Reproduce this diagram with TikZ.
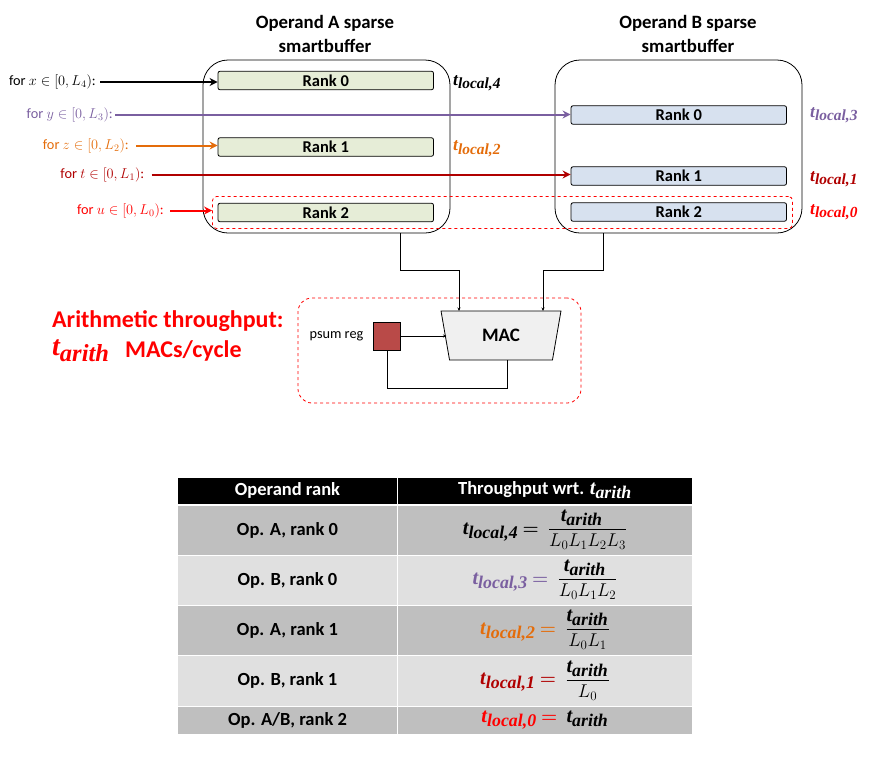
\documentclass[tikz,border=0pt]{standalone}
\usepackage{fix-cm}
\usepackage{amsmath}
\usepackage{graphicx}
\usepackage{xcolor}
\usepackage{fontspec}
\setmainfont{Carlito}
\newfontfamily\symfont{Liberation Serif}
\usepackage{tikz}
\usetikzlibrary{arrows.meta,positioning,shapes.geometric,calc}
\definecolor{loopblack}{RGB}{0,0,0}
\definecolor{looppurple}{RGB}{122,95,160}
\definecolor{looporange}{RGB}{228,108,10}
\definecolor{loopdark}{RGB}{176,0,0}
\definecolor{loopred}{RGB}{255,0,0}
\definecolor{rankgreen}{RGB}{230,237,215}
\definecolor{rankblue}{RGB}{215,225,239}
\definecolor{regred}{RGB}{185,74,72}
\definecolor{macgray}{RGB}{240,240,240}
\definecolor{rowdark}{RGB}{191,191,191}
\definecolor{rowlight}{RGB}{224,224,224}
\newcommand{\fsz}[1]{\fontsize{#1}{#1}\selectfont}
\newcommand{\bfit}{\symfont\bfseries\itshape}
\newcommand{\tlocal}[1]{\scalebox{1.3}{$\text{\bfit\scalebox{.85}{t}}_{\text{\bfit\scalebox{1.06}{local,#1}}}$}}
\newcommand{\tarith}{\scalebox{1.3}{$\text{\bfit\scalebox{.85}{t}}_{\text{\bfit\scalebox{1.06}{arith}}}$}}

\begin{document}
\begin{tikzpicture}[
  x=1pt, y=-1pt,
  sbuf/.style={draw, line width=0.8pt, rounded corners=25pt, minimum width=247pt, minimum height=173pt, inner sep=0pt},
  rank/.style={draw, line width=0.8pt, rounded corners=2pt, minimum width=215.5pt, minimum height=18.5pt, inner sep=0pt, font=\fsz{16.5}\bfseries},
  title/.style={align=center, font=\fsz{18.8}\bfseries, inner sep=0pt},
  loopvar/.style={anchor=east, inner sep=0pt, font=\fsz{14.3}},
  rate/.style={anchor=west, inner sep=0pt, font=\fsz{16}},
  thickarrow/.style={-{Stealth[length=8pt,width=8pt]}, line width=2pt},
  thinarrow/.style={-{Stealth[length=3.5pt,width=3pt]}, line width=0.8pt},
  dashbox/.style={draw=loopred, dashed, line width=0.8pt, inner sep=0pt},
  cell/.style={draw=white, line width=0.7pt, inner sep=0pt, outer sep=0pt, font=\fsz{18.5}\bfseries},
  formula/.style={cell, font=\fsz{18.5}}
]
\useasboundingbox (0,0) rectangle (892,756);
% smartbuffers
\node[sbuf] (bufA) at (326.5,146.5) {};
\node[sbuf] (bufB) at (678.5,146.5) {};
\node[title] (titleA) at (325,34) {Operand A sparse\\[4.5pt]smartbuffer};
\node[title] (titleB) at (688,34) {Operand B sparse\\[4.5pt]smartbuffer};
\node[rank, fill=rankgreen] (rankA0) at (325.75,80.5) {Rank 0};
\node[rank, fill=rankgreen] (rankA1) at (325.75,147) {Rank 1};
\node[rank, fill=rankgreen] (rankA2) at (325.75,212.5) {Rank 2};
\node[rank, fill=rankblue] (rankB0) at (678.75,115) {Rank 0};
\node[rank, fill=rankblue] (rankB1) at (678.75,176) {Rank 1};
\node[rank, fill=rankblue] (rankB2) at (678.75,212) {Rank 2};
\node[dashbox, rounded corners=4pt, minimum width=580pt, minimum height=32pt] (rankband) at (502.5,212.5) {};
% loops
\node[loopvar, text=loopblack] (forx) at (96,82) {for $x\in[0,L_4)$:};
\node[loopvar, text=looppurple] (fory) at (113,114.5) {for $y\in[0,L_3)$:};
\node[loopvar, text=looporange] (forz) at (129,145.5) {for $z\in[0,L_2)$:};
\node[loopvar, text=loopdark] (fort) at (144.5,174.5) {for $t\in[0,L_1)$:};
\node[loopvar, text=loopred] (foru) at (164,210.5) {for $u\in[0,L_0)$:};
\draw[thickarrow, draw=loopblack] ($(forx.east)+(4,0)$) -- (forx.east -| rankA0.west);
\draw[thickarrow, draw=looppurple] ($(fory.east)+(2,0)$) -- (fory.east -| rankB0.west);
\draw[thickarrow, draw=looporange] ($(forz.east)+(7,0)$) -- (forz.east -| rankA1.west);
\draw[thickarrow, draw=loopdark] ($(fort.east)+(7,0)$) -- (fort.east -| rankB1.west);
\draw[thickarrow, draw=loopred] ($(foru.east)+(6,0)$) -- (foru.east -| rankband.west);
\node[rate, text=loopblack] (rate4) at (453,83) {\tlocal{4}};
\node[rate, text=looporange] (rate2) at (453,148.5) {\tlocal{2}};
\node[rate, text=looppurple] (rate3) at (810,115) {\tlocal{3}};
\node[rate, text=loopdark] (rate1) at (810,179) {\tlocal{1}};
\node[rate, text=loopred] (rate0) at (810,212) {\tlocal{0}};
% MAC
\node[dashbox, rounded corners=14pt, minimum width=283pt, minimum height=105pt] (macband) at (439.5,350.5) {};
\node[draw, line width=0.8pt, fill=macgray, trapezium, shape border rotate=180, trapezium left angle=76, trapezium right angle=76, trapezium stretches=true, minimum width=120pt, minimum height=49pt, inner sep=0pt, font=\fsz{19}\bfseries] (mac) at (501,335.5) {MAC};
\node[draw, line width=0.8pt, fill=regred, minimum width=27pt, minimum height=28pt, inner sep=0pt] (reg) at (386.5,336) {};
\node[left=9pt of reg, inner sep=0pt, font=\fsz{14.3}] (regname) {psum reg};
\node[anchor=west, inner sep=0pt, font=\fsz{24}\bfseries, text=loopred] (arith) at (52,321.5) {Arithmetic throughput:};
\node[anchor=west, inner sep=0pt, font=\fsz{25.4}, text=loopred] (arithvar) at (52,351) {\tarith};
\node[anchor=west, inner sep=0pt, font=\fsz{24}\bfseries, text=loopred] (arithunit) at (125,350.5) {MACs/cycle};
\coordinate (outA) at (400,233);
\coordinate (outB) at (603,233);
\coordinate (inA) at (459,311);
\coordinate (inB) at (543,311);
\draw[thinarrow] (outA) -- ++(0,37) -| (inA);
\draw[thinarrow] (outB) -- ++(0,37) -| (inB);
\draw[thinarrow] (reg.east) -- (446.5,336);
\draw[line width=0.8pt] (387,350) -- ++(0,38) -| (507,360);
% table
\node[cell, fill=black, text=white, anchor=north west, minimum width=220pt, minimum height=27pt] (headrank) at (177.5,477) {Operand rank};
\node[cell, fill=black, text=white, right=0pt of headrank, minimum width=295pt, minimum height=27pt] (headrate) {Throughput wrt. \tarith};
\node[cell, fill=rowdark, below=1pt of headrank, minimum width=220pt, minimum height=50pt] (opA0) {Op. A, rank 0};
\node[formula, fill=rowdark, right=0pt of opA0, minimum width=295pt, minimum height=50pt] (rateA0) {\tlocal{4} $\boldsymbol{=}$\; $\dfrac{\tarith}{L_0L_1L_2L_3}$};
\node[cell, fill=rowlight, below=0pt of opA0, minimum width=220pt, minimum height=50pt] (opB0) {Op. B, rank 0};
\node[formula, fill=rowlight, right=0pt of opB0, minimum width=295pt, minimum height=50pt] (rateB0) {\textcolor{looppurple}{\tlocal{3} $\boldsymbol{=}$}\; $\dfrac{\tarith}{L_0L_1L_2}$};
\node[cell, fill=rowdark, below=0pt of opB0, minimum width=220pt, minimum height=50pt] (opA1) {Op. A, rank 1};
\node[formula, fill=rowdark, right=0pt of opA1, minimum width=295pt, minimum height=50pt] (rateA1) {\textcolor{looporange}{\tlocal{2} $\boldsymbol{=}$}\; $\dfrac{\tarith}{L_0L_1}$};
\node[cell, fill=rowlight, below=0pt of opA1, minimum width=220pt, minimum height=51pt] (opB1) {Op. B, rank 1};
\node[formula, fill=rowlight, right=0pt of opB1, minimum width=295pt, minimum height=51pt] (rateB1) {\textcolor{loopdark}{\tlocal{1} $\boldsymbol{=}$}\; $\dfrac{\tarith}{L_0}$};
\node[cell, fill=rowdark, below=0pt of opB1, minimum width=220pt, minimum height=28pt] (opAB) {Op. A/B, rank 2};
\node[formula, fill=rowdark, right=0pt of opAB, minimum width=295pt, minimum height=28pt] (rateAB) {\textcolor{loopred}{\tlocal{0} $\boldsymbol{=}$}\; \tarith};
\end{tikzpicture}
\end{document}
